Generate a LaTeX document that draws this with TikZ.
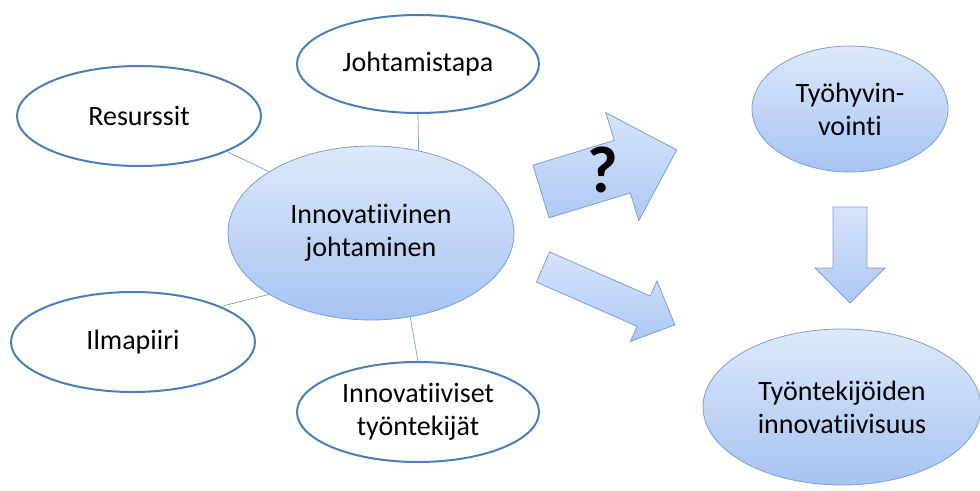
\documentclass[tikz,border=0pt]{standalone}
\usepackage{fontspec}
\setmainfont{Carlito}[Ligatures={NoCommon}]
\usetikzlibrary{shapes.geometric}
\definecolor{rim}{HTML}{4A7EBB}
\definecolor{softrim}{HTML}{7C9FD0}
\definecolor{fillTop}{HTML}{DDE9FB}
\definecolor{fillBot}{HTML}{A6C3F2}
\definecolor{arrowTop}{HTML}{D6E4FA}
\definecolor{arrowBot}{HTML}{ADC8F4}
\begin{document}
\begin{tikzpicture}[x=1pt,y=-1pt,
  labelfont/.style={font=\fontsize{28}{33}\selectfont},
  outer/.style={ellipse, draw=rim, line width=2pt, fill=white, inner sep=0pt,
    align=center, labelfont},
  core/.style={ellipse, draw=softrim, line width=0.8pt, top color=fillTop,
    bottom color=fillBot, inner sep=0pt, align=center, labelfont},
  link/.style={draw=softrim, line width=0.7pt},
  blockarrow/.style={draw=softrim, line width=0.8pt, top color=arrowTop,
    bottom color=arrowBot, line join=miter}
]
\useasboundingbox (0,0) rectangle (980,490);

% surrounding factors
\node[outer, minimum width=242pt, minimum height=98pt] (tapa) at (418,64) {Johtamistapa};
\node[outer, minimum width=244pt, minimum height=100pt] (res) at (139,116) {Resurssit};
\node[outer, minimum width=244pt, minimum height=100pt] (ilma) at (133,342) {Ilmapiiri};
\node[outer, minimum width=242pt, minimum height=100pt] (tek) at (418,412) {Innovatiiviset\\työntekijät};

% central concept
\node[core, minimum width=286pt, minimum height=174pt] (cen) at (371,233) {Innovatiivinen\\johtaminen};

% outcomes
\node[core, minimum width=196pt, minimum height=126pt] (hyv) at (850,109) {Työhyvin-\\vointi};
\node[core, minimum width=278pt, minimum height=156pt] (inn) at (842,407) {Työntekijöiden\\innovatiivisuus};

% spokes
\draw[link] (tapa.270) -- (cen.60);
\draw[link] (res.338) -- (cen.149);
\draw[link] (ilma.22) -- (cen.211);
\draw[link] (tek.90) -- (cen.295);

% block arrows
\begin{scope}[shift={(541,191.5)}, rotate=17]
  \path[blockarrow] (0,-27.5) -- (85,-27.5) -- (85,-56.5) -- (142,0)
    -- (85,56.5) -- (85,27.5) -- (0,27.5) -- cycle;
\end{scope}
\node[font=\fontsize{66}{66}\selectfont\bfseries] (q) at (603,170) {?};

\begin{scope}[shift={(543,267)}, rotate=-23.7]
  \path[blockarrow] (0,-16.5) -- (110,-16.5) -- (110,-33) -- (144,0)
    -- (110,33) -- (110,16.5) -- (0,16.5) -- cycle;
\end{scope}

\begin{scope}[shift={(850,207)}, rotate=-90]
  \path[blockarrow] (0,-17) -- (61,-17) -- (61,-35) -- (96,0)
    -- (61,35) -- (61,17) -- (0,17) -- cycle;
\end{scope}
\end{tikzpicture}
\end{document}
